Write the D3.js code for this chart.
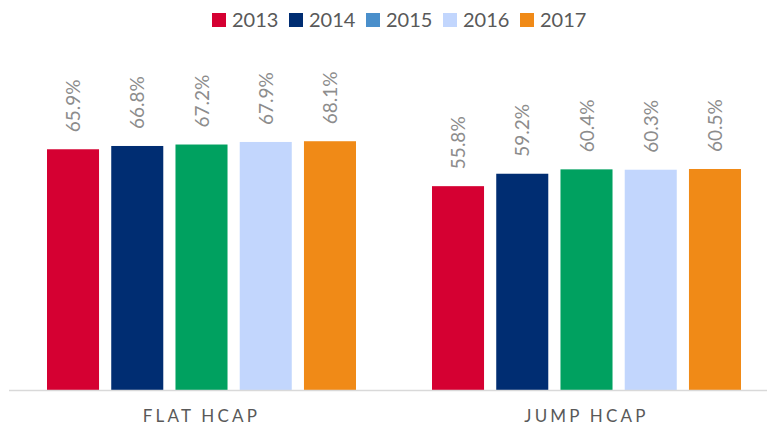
<!DOCTYPE html>
<html>
<head>
	<meta charset="utf-8">
	<script src="https://d3js.org/d3.v7.min.js"></script>
	<style>
		body { margin: 0; background: #fff; }
		text { font-family: Lato, "Open Sans", sans-serif; }
	</style>
</head>
<body>
	<div id="chart"></div>
	<script>

	// The svg
	var width = 767,
	    height = 426;

	var svg = d3.select("#chart").append("svg")
	  .attr("width", width)
	  .attr("height", height);

	// data
	var categories = ["FLAT HCAP", "JUMP HCAP"];
	var years = ["2013", "2014", "2015", "2016", "2017"];
	var values2013 = [65.9, 55.8];
	var values2014 = [66.8, 59.2];
	var values2015 = [67.2, 60.4];
	var values2016 = [67.9, 60.3];
	var values2017 = [68.1, 60.5];
	var series = [values2013, values2014, values2015, values2016, values2017];

	// bar colours and legend colours (legend swatch for 2015 differs from its bars, as in the original)
	var barColors = ["#d50032", "#002d72", "#00a160", "#c2d6fd", "#f08a17"];
	var legendColors = ["#d50032", "#002d72", "#4a8fcb", "#c2d6fd", "#f08a17"];

	var baseY = 390;

	var x0 = d3.scaleBand()
		.domain(categories)
		.range([9, 779]);

	var x1 = d3.scaleBand()
		.domain(years)
		.range([38, 347])
		.paddingInner(0.19)
		.paddingOuter(0);

	var y = d3.scaleLinear()
		.domain([0, 100])
		.range([baseY, baseY - 365.3]);

	var rows = [];
	categories.forEach(function(c, i) {
		years.forEach(function(yr, j) {
			rows.push({cat: c, year: yr, idx: j, value: series[j][i]});
		});
	});

	// bars
	svg.append("g")
		.selectAll("rect")
		.data(rows)
		.join("rect")
		  .attr("x", d => x0(d.cat) + x1(d.year))
		  .attr("y", d => y(d.value))
		  .attr("width", x1.bandwidth())
		  .attr("height", d => baseY - y(d.value))
		  .attr("fill", d => barColors[d.idx]);

	// value labels
	svg.append("g")
		.selectAll("text")
		.data(rows)
		.join("text")
		  .attr("transform", d => "translate(" + (x0(d.cat) + x1(d.year) + x1.bandwidth() / 2 + 7) + "," + (y(d.value) - 17) + ") rotate(-90)")
		  .attr("text-anchor", "start")
		  .attr("font-size", 19)
		  .attr("fill", "#8c8c8c")
		  .text(d => d.value.toFixed(1) + "%");

	// axis line
	svg.append("line")
		.attr("x1", 9)
		.attr("x2", 767)
		.attr("y1", baseY + 0.5)
		.attr("y2", baseY + 0.5)
		.attr("stroke", "#d9d9d9")
		.attr("stroke-width", 1.5);

	// category labels
	svg.append("g")
		.selectAll("text")
		.data(categories)
		.join("text")
		  .attr("x", d => x0(d) + x0.bandwidth() / 2)
		  .attr("y", 422)
		  .attr("text-anchor", "middle")
		  .attr("font-size", 17)
		  .attr("letter-spacing", 3.2)
		  .attr("fill", "#595959")
		  .text(d => d);

	// legend
	var legend = svg.append("g")
		.selectAll("g")
		.data(years)
		.join("g")
		  .attr("transform", (d, i) => "translate(" + (212 + i * 77) + ",13)");

	legend.append("rect")
		.attr("width", 14)
		.attr("height", 14)
		.attr("fill", (d, i) => legendColors[i]);

	legend.append("text")
		.attr("x", 20)
		.attr("y", 14)
		.attr("font-size", 20)
		.attr("fill", "#595959")
		.text(d => d);
</script>
</body>
</html>
